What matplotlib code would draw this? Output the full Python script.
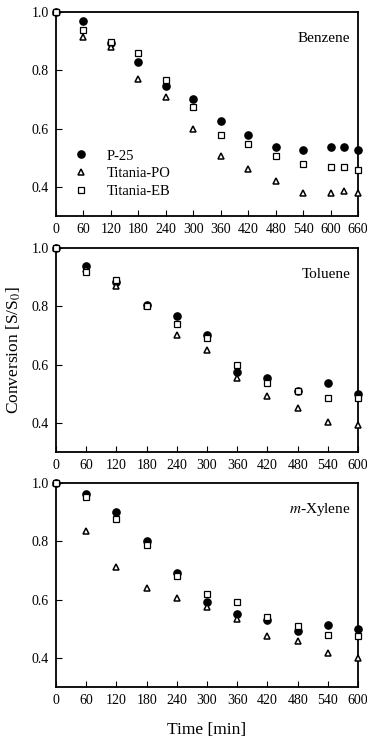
"""
Conversion vs time for benzene, toluene and m-xylene over three titania catalysts
"""

import matplotlib
matplotlib.use('Agg')
import matplotlib.pyplot as plt

plt.rcParams['font.family'] = ['Liberation Serif', 'DejaVu Serif']
plt.rcParams['mathtext.fontset'] = 'stix'

# Benzene
t_benzene = [0, 60, 120, 180, 240, 300, 360, 420, 480, 540, 600, 630, 660]
benzene_p25 = [1.0, 0.97, 0.893, 0.83, 0.746, 0.70, 0.627, 0.577, 0.538, 0.527, 0.538, 0.538, 0.527]
benzene_po = [1.0, 0.913, 0.88, 0.77, 0.71, 0.60, 0.507, 0.463, 0.42, 0.38, 0.38, 0.386, 0.38]
benzene_eb = [1.0, 0.94, 0.897, 0.86, 0.766, 0.673, 0.577, 0.547, 0.507, 0.478, 0.467, 0.467, 0.458]

# Toluene
t_toluene = [0, 60, 120, 180, 240, 300, 360, 420, 480, 540, 600]
toluene_p25 = [1.0, 0.94, 0.885, 0.806, 0.767, 0.70, 0.575, 0.552, 0.51, 0.538, 0.50]
toluene_po = [1.0, 0.93, 0.871, 0.80, 0.703, 0.65, 0.552, 0.493, 0.449, 0.401, 0.393]
toluene_eb = [1.0, 0.917, 0.89, 0.802, 0.738, 0.69, 0.60, 0.538, 0.51, 0.486, 0.486]

# m-Xylene
t_xylene = [0, 60, 120, 180, 240, 300, 360, 420, 480, 540, 600]
xylene_p25 = [1.0, 0.963, 0.90, 0.80, 0.693, 0.59, 0.55, 0.53, 0.493, 0.511, 0.50]
xylene_po = [1.0, 0.837, 0.711, 0.64, 0.605, 0.576, 0.534, 0.473, 0.459, 0.415, 0.40]
xylene_eb = [1.0, 0.952, 0.877, 0.787, 0.682, 0.618, 0.593, 0.541, 0.51, 0.478, 0.474]

y_ticks = [0.4, 0.6, 0.8, 1.0]

panels = [
    ('Benzene', t_benzene, benzene_p25, benzene_po, benzene_eb, 660),
    ('Toluene', t_toluene, toluene_p25, toluene_po, toluene_eb, 600),
    ('$m$-Xylene', t_xylene, xylene_p25, xylene_po, xylene_eb, 600),
]

fig = plt.figure(figsize=(3.67, 7.40), dpi=100)

boxes = [
    [0.1526, 0.708, 0.823, 0.2757],
    [0.1526, 0.3896, 0.823, 0.2749],
    [0.1526, 0.0720, 0.823, 0.2749],
]

for i, (name, t, p25, po, eb, xmax) in enumerate(panels):
    ax = fig.add_axes(boxes[i])
    ax.plot(t, p25, 'o', color='black', markersize=5.2, label='P-25', clip_on=False, zorder=3)
    ax.plot(t, po, '^', markerfacecolor='white', markeredgecolor='black',
            markeredgewidth=1.1, markersize=4.8, label='Titania-PO', clip_on=False, zorder=4)
    ax.plot(t, eb, 's', markerfacecolor='white', markeredgecolor='black',
            markeredgewidth=0.9, markersize=4.6, label='Titania-EB', clip_on=False, zorder=5)

    ax.set_xlim(0, xmax)
    ax.set_ylim(0.30, 1.0)
    ax.set_xticks(range(0, xmax + 1, 60))
    ax.set_yticks(y_ticks)
    ax.set_yticklabels([f'{v:.1f}' for v in y_ticks])
    ax.tick_params(direction='in', length=4, width=0.8, labelsize=10, pad=5)
    for sp in ax.spines.values():
        sp.set_linewidth(1.3)

    ax.text(0.975, 0.87, name, transform=ax.transAxes, ha='right', va='center', fontsize=11)

    if i == 0:
        ax.legend(loc='lower left', bbox_to_anchor=(0.0, 0.04), frameon=False,
                  fontsize=10.5, handletextpad=0.8, labelspacing=0.3, borderaxespad=0.3)
    if i == 1:
        ax.set_ylabel('Conversion [S/S$_0$]', fontsize=12.5, labelpad=6)
    if i == 2:
        ax.set_xlabel('Time [min]', fontsize=12.5, labelpad=11)

plt.savefig('out.png', dpi=100)
